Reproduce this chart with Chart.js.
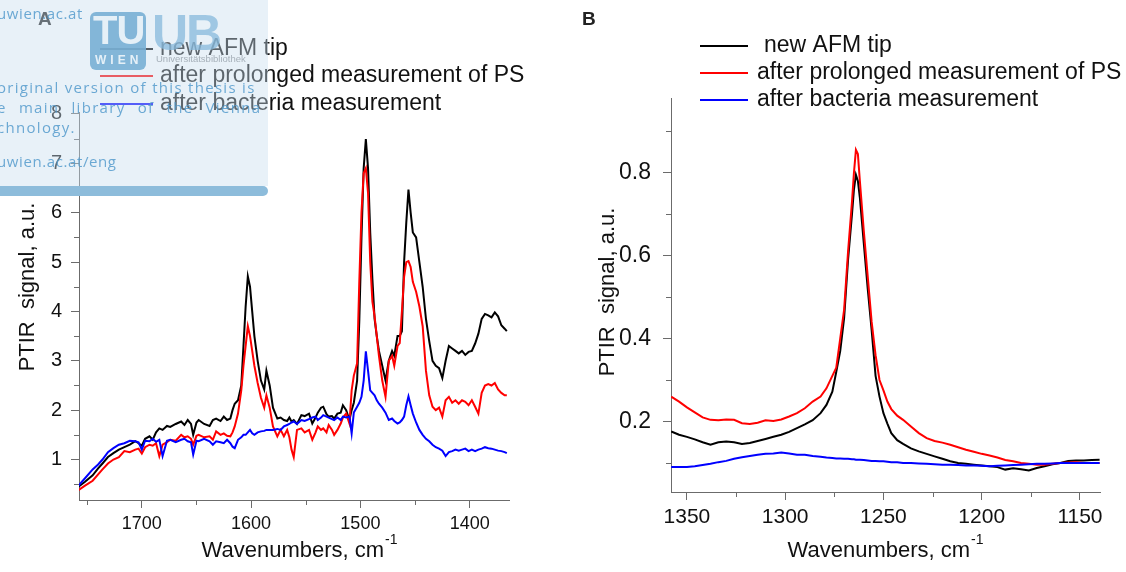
<!DOCTYPE html>
<html><head><meta charset="utf-8">
<script src="https://cdn.jsdelivr.net/npm/chart.js@4.4.1/dist/chart.umd.min.js"></script>
<style>
html,body{margin:0;padding:0;background:#fff;width:1126px;height:572px;overflow:hidden;}
#wrap{position:relative;width:1126px;height:572px;}
canvas{position:absolute;top:0;}
#cA{left:0;}
#cB{left:563px;}
#wm{position:absolute;left:0;top:0;width:268px;height:186px;background:rgba(200,221,238,0.42);z-index:5;overflow:hidden;}
#band{position:absolute;left:0;top:186px;width:268px;height:10px;background:#8dbcdb;border-radius:0 6px 6px 0;z-index:5;}
.wmt{position:absolute;white-space:nowrap;font-family:'Open Sans','DejaVu Sans',sans-serif;font-size:15px;letter-spacing:1.3px;color:rgba(85,155,205,0.85);}
#logo{position:absolute;left:90px;top:12px;width:56px;height:58px;background:rgba(120,175,212,0.9);border-radius:6px;}
#logo .tu{position:absolute;left:3px;top:-4px;font-family:'Liberation Sans',Arial,sans-serif;font-weight:bold;font-size:40px;color:rgba(235,243,250,0.95);letter-spacing:-1px;}
#logo .wien{position:absolute;left:5px;top:41px;font-family:'Liberation Sans',Arial,sans-serif;font-weight:bold;font-size:12px;color:rgba(235,243,250,0.95);letter-spacing:4px;}
#ub{position:absolute;left:152px;top:4px;font-family:'Liberation Sans',Arial,sans-serif;font-weight:bold;font-size:50px;color:rgba(135,185,220,0.75);letter-spacing:-2px;}
#ubs{position:absolute;left:156px;top:53px;font-family:'Liberation Sans',Arial,sans-serif;font-size:9.5px;color:rgba(150,160,170,0.8);}
</style></head>
<body><div id="wrap">
<canvas id="cA" width="563" height="572"></canvas>
<canvas id="cB" width="563" height="572"></canvas>
<div id="wm">
  <div class="wmt" style="top:3px;left:-3px;letter-spacing:0.6px;">uwien.ac.at</div>
  <div id="logo"><span class="tu">TU</span><span class="wien">WIEN</span></div>
  <div id="ub">UB</div>
  <div id="ubs">Universitätsbibliothek</div>
  <div class="wmt" style="top:77px;left:-3px;">original version of this thesis is</div>
  <div class="wmt" style="top:97px;left:-3px;word-spacing:7px;">e main library of the Vienna</div>
  <div class="wmt" style="top:117px;left:-3px;">chnology.</div>
  <div class="wmt" style="top:151px;left:-3px;letter-spacing:0.6px;">uwien.ac.at/eng</div>
</div>
<div id="band"></div>
</div>
<script>
// ---------- DATA ----------
const seriesLabels = ['new AFM tip', 'after prolonged measurement of PS', 'after bacteria measurement'];
const seriesColors = ['#000000', '#ff0000', '#0000ff'];

const waveA = [1758,1752,1745,1740,1736,1731,1726,1721,1716,1711,1706,1703,1700,1697,1693,1690,1687,1684,1681,1677,1674,1669,1664,1661,1658,1655,1653,1650,1648,1643,1638,1635,1632,1628,1625,1622,1619,1617,1615,1612,1609,1607,1605,1603,1601,1599,1597,1594,1591,1588,1586,1583,1580,1576,1573,1570,1567,1565,1563,1561,1558,1554,1551,1547,1544,1541,1539,1536,1534,1531,1529,1526,1524,1521,1518,1516,1513,1510,1508,1506,1503,1501,1499,1497,1495,1493,1491,1489,1487,1485,1483,1480,1477,1474,1471,1469,1466,1464,1462,1460,1458,1456,1454,1452,1449,1446,1443,1440,1437,1434,1431,1428,1425,1422,1419,1416,1413,1410,1407,1404,1401,1398,1395,1392,1389,1386,1383,1380,1377,1374,1371,1368,1366];
const blackA = [0.45,0.55,0.68,0.82,0.92,1.05,1.13,1.2,1.25,1.3,1.37,1.33,1.28,1.42,1.47,1.4,1.55,1.63,1.6,1.68,1.66,1.72,1.77,1.7,1.8,1.72,1.5,1.75,1.8,1.72,1.68,1.8,1.83,1.78,1.87,1.8,1.83,2.0,2.13,2.2,2.5,3.3,4.1,4.71,4.5,4.0,3.5,3.0,2.6,2.42,2.8,2.5,2.05,1.83,1.85,1.8,1.78,1.85,1.77,1.8,1.72,1.9,1.88,1.93,1.73,1.85,1.95,2.05,2.07,1.92,1.87,1.88,1.83,1.93,1.95,2.1,2.0,1.8,2.0,2.15,2.6,3.8,5.5,6.9,7.49,6.9,5.6,4.65,3.85,3.5,3.2,2.9,2.6,3.0,3.2,3.1,3.5,3.5,3.6,5.0,5.8,6.47,6.0,5.6,5.5,5.0,4.5,3.85,3.4,3.0,2.9,2.85,2.65,3.0,3.3,3.25,3.2,3.15,3.2,3.12,3.18,3.2,3.35,3.55,3.85,3.95,3.92,3.88,3.98,3.9,3.72,3.65,3.6];
const redA = [0.38,0.47,0.57,0.7,0.8,0.92,1.0,1.05,1.17,1.15,1.2,1.22,1.12,1.25,1.3,1.28,1.33,1.07,1.3,1.35,1.4,1.38,1.5,1.45,1.47,1.42,1.3,1.48,1.5,1.45,1.47,1.4,1.57,1.5,1.53,1.48,1.47,1.55,1.67,1.93,2.4,2.9,3.3,3.7,3.5,3.2,2.9,2.55,2.25,2.05,2.3,2.05,1.67,1.47,1.6,1.47,1.6,1.45,1.2,1.05,1.6,1.63,1.55,1.6,1.4,1.55,1.67,1.6,1.63,1.55,1.7,1.6,1.5,1.6,1.73,1.85,1.93,1.73,2.4,2.7,2.95,4.6,6.0,6.8,6.9,6.4,5.0,4.2,3.9,3.5,3.1,2.6,2.27,3.0,3.1,2.9,3.3,3.36,4.0,4.7,5.0,5.02,4.9,4.6,4.4,4.1,3.7,2.8,2.3,2.07,2.0,2.05,1.87,2.2,2.27,2.15,2.2,2.13,2.2,2.17,2.1,2.2,2.07,1.93,2.35,2.5,2.53,2.5,2.55,2.42,2.35,2.3,2.3];
const blueA = [0.47,0.62,0.8,0.9,1.0,1.15,1.23,1.3,1.33,1.38,1.37,1.35,1.2,1.38,1.37,1.42,1.36,1.4,1.07,1.38,1.4,1.35,1.4,1.42,1.37,1.35,1.1,1.38,1.37,1.42,1.37,1.3,1.37,1.35,1.33,1.4,1.33,1.26,1.23,1.4,1.45,1.5,1.5,1.55,1.6,1.53,1.5,1.55,1.57,1.58,1.6,1.6,1.6,1.62,1.6,1.67,1.7,1.72,1.75,1.77,1.72,1.8,1.78,1.82,1.85,1.87,1.8,1.85,1.9,1.87,1.85,1.82,1.8,1.85,1.8,1.87,1.85,1.87,1.53,1.95,2.07,2.15,2.27,2.6,3.19,2.8,2.4,2.35,2.3,2.2,2.13,2.05,1.95,1.8,1.83,1.78,1.73,1.75,1.8,1.87,2.1,2.28,2.1,1.93,1.75,1.6,1.5,1.42,1.37,1.3,1.25,1.22,1.18,1.07,1.15,1.17,1.2,1.18,1.2,1.22,1.17,1.2,1.17,1.2,1.22,1.25,1.23,1.22,1.2,1.18,1.17,1.15,1.13];

const waveB = [1358,1354,1350,1346,1342,1338,1334,1330,1326,1322,1318,1314,1310,1306,1302,1298,1294,1290,1286,1282,1279,1276,1274,1272,1270,1268,1266,1265,1264,1263,1262,1260,1258,1256,1254,1252,1250,1248,1246,1243,1240,1236,1232,1228,1224,1220,1216,1212,1208,1204,1200,1196,1192,1188,1184,1180,1176,1172,1168,1164,1160,1156,1152,1148,1144,1140];
const blackB = [0.176,0.168,0.163,0.157,0.15,0.144,0.15,0.152,0.15,0.146,0.148,0.153,0.158,0.163,0.168,0.175,0.184,0.193,0.203,0.22,0.24,0.272,0.32,0.37,0.45,0.59,0.70,0.76,0.795,0.78,0.74,0.63,0.52,0.42,0.31,0.26,0.22,0.195,0.172,0.155,0.146,0.135,0.128,0.122,0.116,0.11,0.104,0.1,0.098,0.096,0.094,0.092,0.09,0.084,0.087,0.085,0.082,0.088,0.092,0.097,0.1,0.105,0.106,0.106,0.107,0.108];
const redB = [0.26,0.248,0.234,0.222,0.21,0.204,0.203,0.205,0.204,0.196,0.194,0.197,0.203,0.201,0.205,0.212,0.22,0.232,0.248,0.26,0.28,0.31,0.33,0.40,0.47,0.61,0.73,0.80,0.855,0.845,0.78,0.66,0.55,0.44,0.36,0.30,0.275,0.248,0.23,0.214,0.204,0.188,0.172,0.16,0.153,0.149,0.144,0.138,0.132,0.127,0.122,0.118,0.113,0.107,0.104,0.1,0.098,0.096,0.096,0.098,0.1,0.101,0.102,0.1,0.1,0.1];
const blueB = [0.09,0.09,0.09,0.092,0.095,0.098,0.102,0.105,0.11,0.114,0.117,0.12,0.122,0.123,0.125,0.123,0.12,0.12,0.117,0.115,0.113,0.112,0.111,0.111,0.11,0.11,0.109,0.109,0.108,0.108,0.108,0.107,0.106,0.105,0.105,0.104,0.104,0.103,0.102,0.102,0.1,0.1,0.099,0.098,0.097,0.096,0.096,0.095,0.094,0.094,0.093,0.092,0.093,0.094,0.095,0.096,0.097,0.098,0.098,0.099,0.1,0.1,0.1,0.1,0.1,0.1];

const xTicksA = [1700, 1600, 1500, 1400];
const xMinorA = [1750, 1650, 1550, 1450];
const yTicksA = [1, 2, 3, 4, 5, 6, 7, 8];
const yMinorA = [0.5, 1.5, 2.5, 3.5, 4.5, 5.5, 6.5, 7.5];
const xTicksB = [1350, 1300, 1250, 1200, 1150];
const xMinorB = [1325, 1275, 1225, 1175];
const yTicksB = [0.2, 0.4, 0.6, 0.8];
const yMinorB = [0.1, 0.3, 0.5, 0.7, 0.9];

const xTitle = 'Wavenumbers, cm';
const xTitleSup = '-1';
const yTitle = 'PTIR  signal, a.u.';

// ---------- RENDERING ----------
const FONT = "'Liberation Sans', Arial, sans-serif";
const AXIS = '#6b6b6b';

const decor = {
  id: 'decor',
  afterDraw(chart, args, o) {
    const ctx = chart.ctx;
    const xs = chart.scales.x, ys = chart.scales.y;
    ctx.save();
    // minor ticks
    ctx.strokeStyle = AXIS; ctx.lineWidth = 1;
    ctx.beginPath();
    o.xMinor.forEach(v => { const px = Math.round(xs.getPixelForValue(v)) + 0.5; ctx.moveTo(px, xs.top); ctx.lineTo(px, xs.top + o.minorLen); });
    o.yMinor.forEach(v => { const py = Math.round(ys.getPixelForValue(v)) + 0.5; ctx.moveTo(ys.right, py); ctx.lineTo(ys.right - o.minorLen, py); });
    ctx.stroke();
    // axis titles
    ctx.fillStyle = '#111';
    ctx.font = o.titleSize + 'px ' + FONT;
    ctx.textBaseline = 'alphabetic';
    const w1 = ctx.measureText(xTitle).width;
    ctx.font = o.supSize + 'px ' + FONT;
    const w2 = ctx.measureText(xTitleSup).width;
    const x0 = o.xTitleX - (w1 + w2) / 2;
    ctx.font = o.titleSize + 'px ' + FONT;
    ctx.textAlign = 'left';
    ctx.fillText(xTitle, x0, o.xTitleY);
    ctx.font = o.supSize + 'px ' + FONT;
    ctx.fillText(xTitleSup, x0 + w1 + 1, o.xTitleY - o.titleSize * 0.58);
    ctx.save();
    ctx.translate(o.yTitleX, o.yTitleY);
    ctx.rotate(-Math.PI / 2);
    ctx.textAlign = 'center'; ctx.textBaseline = 'middle';
    ctx.font = o.titleSize + 'px ' + FONT;
    ctx.fillText(yTitle, 0, 0);
    ctx.restore();
    // panel letter
    ctx.font = 'bold ' + o.letterSize + 'px ' + FONT;
    ctx.textAlign = 'left'; ctx.textBaseline = 'alphabetic';
    ctx.fillStyle = '#222';
    ctx.fillText(o.letter, o.letterX, o.letterY);
    // legend
    ctx.font = o.legendSize + 'px ' + FONT;
    ctx.textBaseline = 'middle';
    seriesLabels.forEach((lab, i) => {
      const y = o.legendY[i];
      ctx.strokeStyle = seriesColors[i]; ctx.lineWidth = 2;
      ctx.beginPath(); ctx.moveTo(o.legendX1, y); ctx.lineTo(o.legendX2, y); ctx.stroke();
      ctx.fillStyle = '#111';
      ctx.fillText(lab, o.legendTX + (o.legendDX[i] || 0), y);
    });
    ctx.restore();
  }
};

function makeChart(id, c) {
  const datasets = c.series.map((s, i) => ({
    label: seriesLabels[i],
    data: c.wave.map((w, j) => ({ x: w, y: s[j] })),
    borderColor: seriesColors[i],
    borderWidth: 2,
    pointRadius: 0,
    tension: 0,
    fill: false,
    order: 3 - i
  }));
  const tickFont = { family: FONT, size: c.tickSize };
  const yTickFont = { family: FONT, size: c.yTickSize };
  return new Chart(document.getElementById(id), {
    type: 'line',
    data: { datasets },
    options: {
      responsive: false, animation: false, devicePixelRatio: 1,
      layout: { padding: { top: c.top, right: c.right, left: 0, bottom: 0 } },
      plugins: { legend: { display: false }, tooltip: { enabled: false }, decor: c.decor },
      scales: {
        x: {
          type: 'linear', reverse: true, min: c.xMin, max: c.xMax, bounds: 'data',
          afterBuildTicks: s => { s.ticks = c.xTicks.map(v => ({ value: v })); },
          afterFit: s => { s.height = c.xH; },
          border: { color: AXIS, width: 1 },
          grid: { drawOnChartArea: false, drawTicks: true, tickLength: 8, color: AXIS },
          ticks: { font: tickFont, color: '#111', padding: c.xPad, maxRotation: 0, autoSkip: false, callback: v => String(v) }
        },
        y: {
          type: 'linear', min: c.yMin, max: c.yMax, bounds: 'data',
          afterBuildTicks: s => { s.ticks = c.yTicks.map(v => ({ value: v })); },
          afterFit: s => { s.width = c.yW; },
          border: { color: AXIS, width: 1 },
          grid: { drawOnChartArea: false, drawTicks: true, tickLength: 8, color: AXIS },
          ticks: { font: yTickFont, color: '#111', padding: c.yPad, autoSkip: false, callback: v => String(v) }
        }
      }
    },
    plugins: [decor]
  });
}

makeChart('cA', {
  wave: waveA, series: [blackA, redA, blueA],
  xMin: 1364, xMax: 1757.5, yMin: 0.18, yMax: 8.04,
  xTicks: xTicksA, yTicks: yTicksA,
  top: 112, right: 54, xH: 72, yW: 79, tickSize: 18, yTickSize: 20, xPad: 5, yPad: 9,
  decor: {
    xMinor: xMinorA, yMinor: yMinorA, minorLen: 5,
    titleSize: 22, supSize: 14, xTitleX: 299, xTitleY: 557, yTitleX: 28, yTitleY: 287,
    letter: 'A', letterX: 38, letterY: 25, letterSize: 19,
    legendSize: 23, legendY: [49, 76, 104], legendX1: 100, legendX2: 153, legendTX: 160, legendDX: [0, 0, 0]
  }
});

makeChart('cB', {
  wave: waveB, series: [blackB, redB, blueB],
  xMin: 1139.8, xMax: 1358.1, yMin: 0.03, yMax: 0.98,
  xTicks: xTicksB, yTicks: yTicksB,
  top: 98, right: 26, xH: 80, yW: 108, tickSize: 21, yTickSize: 23, xPad: 5, yPad: 12,
  decor: {
    xMinor: xMinorB, yMinor: yMinorB, minorLen: 5,
    titleSize: 22, supSize: 14, xTitleX: 322, xTitleY: 557, yTitleX: 45, yTitleY: 292,
    letter: 'B', letterX: 19, letterY: 25, letterSize: 19,
    legendSize: 23, legendY: [46, 73, 100], legendX1: 137, legendX2: 185, legendTX: 194, legendDX: [7, 0, 0]
  }
});
</script>
</body></html>
